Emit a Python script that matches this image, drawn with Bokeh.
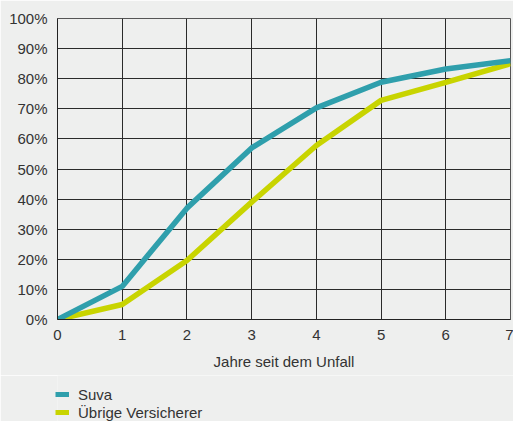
import numpy as np
from bokeh.plotting import figure
from bokeh.layouts import column
from bokeh.core.properties import value
from bokeh.models import Legend, LegendItem, FixedTicker, PrintfTickFormatter, Range1d
from bokeh.embed import file_html
from bokeh.resources import INLINE

years = [0, 1, 2, 3, 4, 5, 6, 7]
suva = [0, 11, 37, 57, 70.3, 78.8, 83.2, 86]
uebrige = [0, 5, 19.6, 39, 57.8, 72.8, 78.8, 85]
y_ticks = [0, 10, 20, 30, 40, 50, 60, 70, 80, 90, 100]
series_names = ["Suva", "Übrige Versicherer"]
footer = ["Grafik"]
colors = ["#2f9fac", "#c8d400"]

BG = "#eeefee"
FONT = "Liberation Sans"
TXT = "#333333"
FS = "15px"

p = figure(frame_width=453, frame_height=301, output_backend="svg", toolbar_location=None,
           x_range=Range1d(0, 7), y_range=Range1d(0, 100),
           background_fill_color=BG, border_fill_color=BG,
           min_border_left=57, min_border_right=3, min_border_top=18, min_border_bottom=56)

p.outline_line_color = "#555555"
p.outline_line_width = 1

p.line(years, uebrige, line_color=colors[1], line_width=5.5)
p.line(years, suva, line_color=colors[0], line_width=5.5)

for ax in (p.xaxis[0], p.yaxis[0]):
    ax.major_tick_line_color = None
    ax.minor_tick_line_color = None
    ax.axis_line_color = "#222222"
    ax.major_label_text_font = FONT
    ax.major_label_text_font_size = FS
    ax.major_label_text_color = TXT

p.yaxis.ticker = FixedTicker(ticks=y_ticks)
p.yaxis.formatter = PrintfTickFormatter(format="%d%%")
p.yaxis.major_label_standoff = 4
p.xaxis.ticker = FixedTicker(ticks=years)
p.xaxis.major_label_standoff = 4
p.xaxis.axis_label = "Jahre seit dem Unfall"
p.xaxis.axis_label_text_font = FONT
p.xaxis.axis_label_text_font_size = FS
p.xaxis.axis_label_text_font_style = "normal"
p.xaxis.axis_label_text_color = TXT
p.xaxis.axis_label_standoff = 10

p.xgrid.grid_line_color = "#2a2a2a"
p.ygrid.grid_line_color = "#2a2a2a"
p.xgrid.grid_line_width = 1
p.ygrid.grid_line_width = 1

# legend strip
q = figure(frame_width=513, frame_height=46, output_backend="svg", toolbar_location=None,
           x_range=Range1d(0, 513), y_range=Range1d(0, 46),
           x_axis_location=None, y_axis_location=None,
           background_fill_color=BG, border_fill_color=BG, min_border=0)
q.outline_line_color = None
q.xgrid.visible = False
q.ygrid.visible = False
stub = [np.nan]
l_s = q.line(stub, stub, line_color=colors[0], line_width=5)
l_u = q.line(stub, stub, line_color=colors[1], line_width=5)

legend = Legend(items=[LegendItem(label=series_names[0], renderers=[l_s]),
                       LegendItem(label=series_names[1], renderers=[l_u])],
                location=(55, 0), orientation="vertical",
                background_fill_alpha=0, border_line_alpha=0,
                label_text_font=FONT, label_text_font_size=FS, label_text_color=TXT,
                glyph_width=14, glyph_height=18, label_height=18, spacing=0,
                padding=0, margin=0, label_standoff=9)
q.add_layout(legend, "center")

q.text(x=[468], y=[1], text=footer, text_baseline="alphabetic", text_align="left",
       text_font=value(FONT), text_font_size=FS, text_font_style="bold",
       text_color="#222222")

layout = column(p, q, spacing=0)
open("out.html", "w").write(file_html(layout, INLINE))
